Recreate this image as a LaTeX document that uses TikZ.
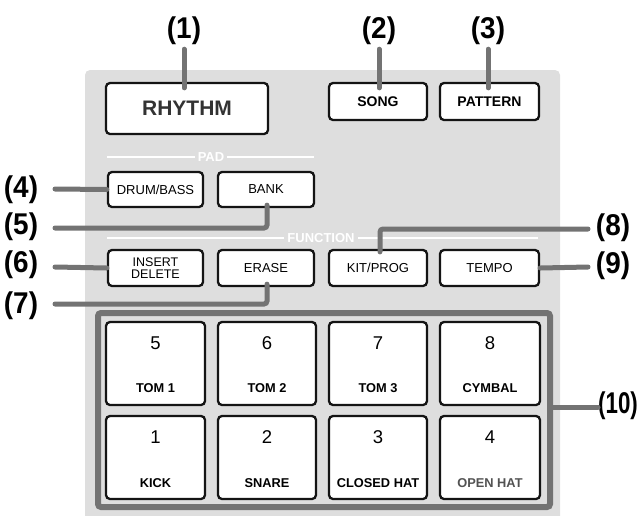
\documentclass[tikz,border=0pt]{standalone}
\usepackage{fontspec}
\setmainfont{Liberation Sans}
\begin{document}
\begin{tikzpicture}[x=1pt,y=-1pt,
  panelgray/.style={fill=black!13},
  btn/.style={draw=black!92,line width=2.3pt,rounded corners=4pt,fill=white,inner sep=0pt,align=center},
  btnlabel/.style={font=\fontsize{13}{13}\selectfont},
  pad/.style={btn,minimum height=83pt},
  leader/.style={draw=black!55,line width=5pt,line cap=round,rounded corners=3pt},
  callout/.style={font=\fontsize{30}{30}\selectfont\bfseries,inner sep=0pt,xscale=0.93},
  sep/.style={draw=white,line width=1.6pt},
  septext/.style={text=white,font=\fontsize{13}{13}\selectfont\bfseries,inner sep=0pt,fill=black!13,inner xsep=3pt},
  padnum/.style={font=\fontsize{18.5}{18.5}\selectfont,inner sep=0pt},
  padname/.style={font=\fontsize{12.8}{12.8}\selectfont\bfseries,inner sep=0pt}]
\useasboundingbox (0,0) rectangle (639,515);

% control panel background
\fill[panelgray,rounded corners=5pt] (85,70) rectangle (560,530);

% section dividers
\draw[sep] (107,157) -- (314,157);
\node[septext] (padhead) at (211,157) {PAD};
\draw[sep] (107,238) -- (538,238);
\node[septext] (funchead) at (321,238) {FUNCTION};

% mode buttons
\node[btn,minimum width=162pt,minimum height=51pt,text=black!80,font=\fontsize{21}{21}\selectfont\bfseries] (rhythm) at (187,108.5) {RHYTHM};
\node[btn,minimum width=98pt,minimum height=37pt,font=\fontsize{14}{14}\selectfont\bfseries] (song) at (378,101.5) {SONG};
\node[btn,minimum width=99pt,minimum height=37pt,font=\fontsize{14}{14}\selectfont\bfseries] (pattern) at (489.5,101.5) {PATTERN};

% pad buttons
\node[btn,btnlabel,minimum width=95pt,minimum height=35pt] (drum) at (155.5,189.5) {DRUM/BASS};
\node[btn,btnlabel,minimum width=96pt,minimum height=35pt] (bank) at (266,189.5) {BANK};

% function buttons
\node[btn,minimum width=95pt,minimum height=36pt,font=\fontsize{12.5}{11.5}\selectfont] (insert) at (155.5,268) {INSERT\\DELETE};
\node[btn,btnlabel,minimum width=96pt,minimum height=36pt] (erase) at (266,268) {ERASE};
\node[btn,btnlabel,minimum width=98pt,minimum height=36pt] (kit) at (378,268) {KIT/PROG};
\node[btn,btnlabel,minimum width=99pt,minimum height=36pt] (tempo) at (489.5,268) {TEMPO};

% pad frame
\draw[draw=black!55,line width=6pt,rounded corners=3pt] (98,313) rectangle (550,507);
\node[inner sep=0pt,minimum width=458pt,minimum height=200pt] (padframe) at (324,410) {};

% drum pads
\foreach \nm/\x/\w in {a/155.5/99,b/267/98,c/378/98,d/490/100}{
  \node[pad,minimum width=\w pt] (top\nm) at (\x,363.5) {};
  \node[pad,minimum width=\w pt,minimum height=83pt] (bot\nm) at (\x,457.5) {};
}
\node[padnum] (n5) at (155.5,343) {5};
\node[padnum] (n6) at (267,343) {6};
\node[padnum] (n7) at (378,343) {7};
\node[padnum] (n8) at (490,343) {8};
\node[padname] (t1) at (155.5,388) {TOM 1};
\node[padname] (t2) at (267,388) {TOM 2};
\node[padname] (t3) at (378,388) {TOM 3};
\node[padname] (cy) at (490,388) {CYMBAL};
\node[padnum] (n1) at (155.5,437) {1};
\node[padnum] (n2) at (267,437) {2};
\node[padnum] (n3) at (378,437) {3};
\node[padnum] (n4) at (490,437) {4};
\node[padname] (kick) at (155.5,483) {KICK};
\node[padname] (snare) at (267,483) {SNARE};
\node[padname] (chat) at (378,483) {CLOSED HAT};
\node[padname,text=black!68] (ohat) at (490,483) {OPEN HAT};

% callout numbers
\node[callout] (c1) at (184,31) {(1)};
\node[callout] (c2) at (379,31) {(2)};
\node[callout] (c3) at (488,31) {(3)};
\node[callout] (c4) at (21,190) {(4)};
\node[callout] (c5) at (21,227) {(5)};
\node[callout] (c6) at (21,265) {(6)};
\node[callout] (c7) at (21,306) {(7)};
\node[callout] (c8) at (613,228) {(8)};
\node[callout] (c9) at (613,266) {(9)};
\node[callout,xscale=0.8] (c10) at (618,406) {(10)};

% leader lines
\coordinate (l4) at (55,189);
\coordinate (l5) at (55,228);
\coordinate (l6) at (55,267);
\coordinate (l7) at (55,304);
\coordinate (l8) at (588,229);
\coordinate (l9) at (588,267);
\coordinate (l10) at (598,407);
\draw[leader] ([yshift=-4pt]c1.south) -- ([xshift=-3pt,yshift=-6pt]rhythm.north);
\draw[leader] ([yshift=-4pt]c2.south) -- ([xshift=1pt,yshift=-6pt]song.north);
\draw[leader] ([yshift=-4pt]c3.south) -- ([xshift=-1.5pt,yshift=-6pt]pattern.north);
\draw[leader] (l4) -- (drum.west);
\draw[leader] (l5) -| ([xshift=1pt,yshift=3pt]bank.south);
\draw[leader] (l6) -- (insert.west);
\draw[leader] (l7) -| ([xshift=1pt,yshift=3pt]erase.south);
\draw[leader] (l8) -| ([xshift=2pt,yshift=-3pt]kit.north);
\draw[leader] (l9) -- (tempo.east);
\draw[leader] (l10) -- ([xshift=-3pt]padframe.east |- l10);
\end{tikzpicture}
\end{document}
